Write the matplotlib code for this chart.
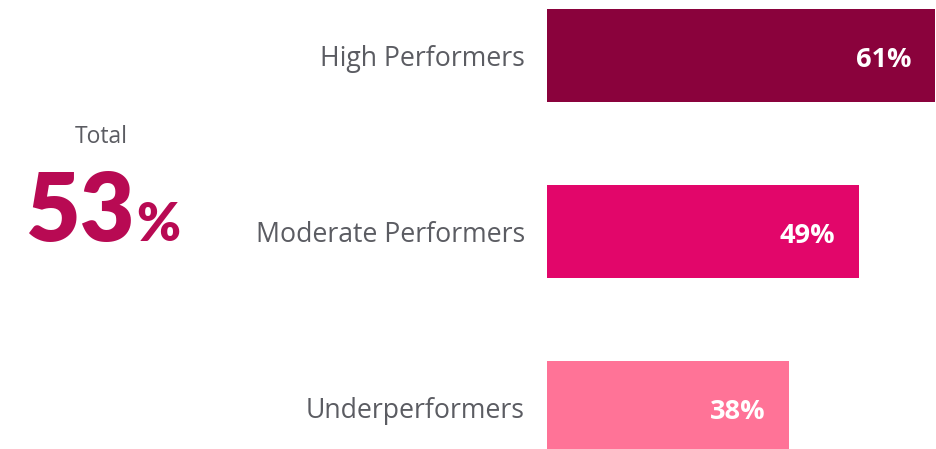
import matplotlib.pyplot as plt

# data
groups = ['High Performers', 'Moderate Performers', 'Underperformers']
values = [61, 49, 38]
total = 53
colors = ['#8a023c', '#e2066a', '#ff7397']

fig = plt.figure(figsize=(9.36, 4.49), dpi=100)
W, H = 936, 449

# bar area: starts at x=547 px, 61% reaches x=935 px
ax = fig.add_axes([547 / W, 0, 388 / W, 1])
ax.barh(range(len(values)), values, height=0.53, color=colors)
ax.set_xlim(0, 61)
ax.set_ylim((449 - 55.5) / 176, -55.5 / 176)
ax.axis('off')

for i, (g, v) in enumerate(zip(groups, values)):
    ax.annotate(f'{v}%', xy=(v, i), xytext=(-17, -8.3), textcoords='offset points',
                ha='right', va='baseline', color='white', fontsize=19.5,
                fontweight='bold', family='Open Sans')
    ax.annotate(g, xy=(0, i), xytext=(-16, -7.6), textcoords='offset points',
                ha='right', va='baseline', color='#5b5c62', fontsize=19.2,
                family='Open Sans')

# total on the left
fig.text(101 / W, 1 - 143 / H, 'Total', ha='center', va='baseline',
         color='#5b5c62', fontsize=16.5, family='Open Sans')
fig.text(25 / W, 1 - 241 / H, str(total), ha='left', va='baseline',
         color='#b80a53', fontsize=68, fontweight='heavy', family='Lato')
fig.text(136 / W, 1 - 241 / H, '%', ha='left', va='baseline',
         color='#b80a53', fontsize=38, fontweight='heavy', family='Lato')

plt.savefig('out.png', dpi=100)
